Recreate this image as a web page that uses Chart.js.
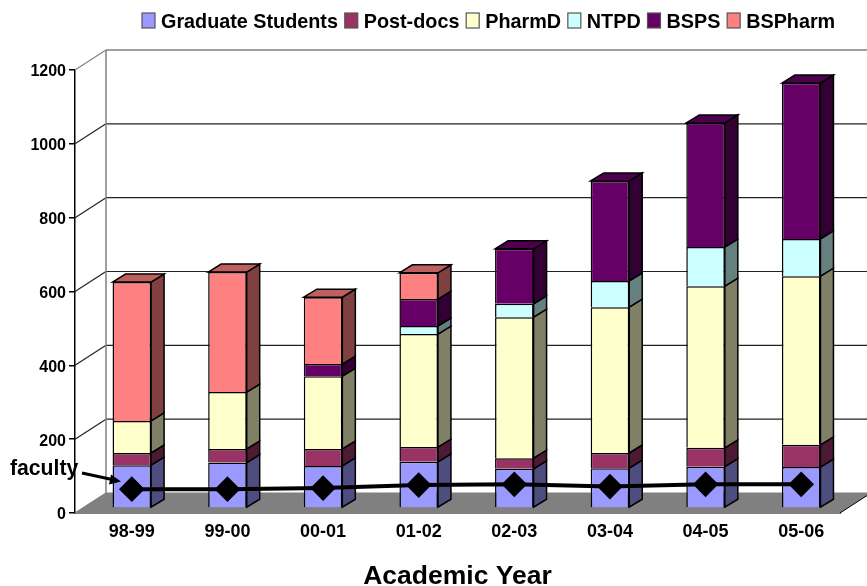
<!DOCTYPE html>
<html>
<head>
<meta charset="utf-8">
<style>html,body{margin:0;padding:0;background:#fff}canvas{display:block}</style>
<script src="https://cdn.jsdelivr.net/npm/chart.js@4"></script>
</head>
<body>
<canvas id="c" width="867" height="586" style="width:867px;height:586px"></canvas>
<script>
const years = ['98-99','99-00','00-01','01-02','02-03','03-04','04-05','05-06'];
const graduateStudents = [116,123,114,125,106,108,112,111];
const postDocs = [33,37,46,40,29,41,51,60];
const pharmD = [87,154,197,306,382,395,438,457];
const ntpd = [0,0,0,22,36,71,106,101];
const bsps = [0,0,33,73,149,271,336,422];
const bsPharm = [376,325,181,71,0,0,0,0];
const faculty = [51,51,54,62,64,58,64,64];
const yTicks = [0,200,400,600,800,1000,1200];

const FONT = '"Liberation Sans", Arial, sans-serif';
const FRONT = {x:9, y:-5};
const BAR_DEPTH = {x:13, y:8};
const WALL = {x:31, y:20};

function shade(hex, f){
  const n = parseInt(hex.slice(1),16);
  return 'rgb('+[(n>>16)&255,(n>>8)&255,n&255].map(v=>Math.round(v*f)).join(',')+')';
}
function poly(ctx, pts, fill, stroke, lw){
  ctx.beginPath();
  pts.forEach((p,i)=> i?ctx.lineTo(p[0],p[1]):ctx.moveTo(p[0],p[1]));
  ctx.closePath();
  if(fill){ctx.fillStyle=fill;ctx.fill();}
  if(stroke){ctx.strokeStyle=stroke;ctx.lineWidth=lw||1;ctx.stroke();}
}
function seg(ctx,x1,y1,x2,y2,c,w){
  ctx.beginPath();ctx.moveTo(x1,y1);ctx.lineTo(x2,y2);ctx.strokeStyle=c;ctx.lineWidth=w;ctx.stroke();
}

const box3d = {
  id:'box3d',
  beforeDatasetsDraw(chart){
    const ctx = chart.ctx, a = chart.chartArea, ys = chart.scales.y;
    ctx.save();
    // floor
    poly(ctx,[[a.left,a.bottom],[a.right,a.bottom],[a.right+WALL.x,a.bottom-WALL.y],[a.left+WALL.x,a.bottom-WALL.y]],'#808080');
    seg(ctx,a.right,a.bottom,a.right+WALL.x,a.bottom-WALL.y,'#000',1);
    // back wall
    const wx = a.left+WALL.x;
    ys.ticks.forEach(t=>{
      const y = ys.getPixelForValue(t.value);
      const top = t.value===1200, bot = t.value===0;
      const col = (top||bot)?'#808080':'#222';
      seg(ctx,a.left,y,wx,y-WALL.y,col,1.2);
      seg(ctx,wx,y-WALL.y,chart.width,y-WALL.y,col,top?1.5:1.2);
    });
    seg(ctx,wx,a.top-WALL.y,wx,a.bottom-WALL.y,'#808080',1.5);
    // bar sides and caps
    ctx.translate(FRONT.x,FRONT.y);
    const barSets = chart.data.datasets.map((d,i)=>({d,i})).filter(o=>o.d.type!=='line');
    years.forEach((_,j)=>{
      let lastTop = -1;
      barSets.forEach((o,k)=>{ if(o.d.data[j]>0) lastTop=k; });
      barSets.forEach((o,k)=>{
        if(!(o.d.data[j]>0)) return;
        const el = chart.getDatasetMeta(o.i).data[j];
        const L = el.x-el.width/2, R = el.x+el.width/2;
        const dx = BAR_DEPTH.x, dy = BAR_DEPTH.y;
        poly(ctx,[[R,el.y],[R+dx,el.y-dy],[R+dx,el.base-dy],[R,el.base]],shade(o.d.backgroundColor,0.5),'#000',1.5);
        if(k===lastTop){
          poly(ctx,[[L,el.y],[L+dx,el.y-dy],[R+dx,el.y-dy],[R,el.y]],shade(o.d.backgroundColor,0.75),'#000',1.5);
        }
      });
    });
    ctx.restore();
  },
  beforeDatasetDraw(chart){ chart.ctx.save(); chart.ctx.translate(FRONT.x,FRONT.y); },
  afterDatasetDraw(chart){ chart.ctx.restore(); },
  afterDraw(chart){
    const ctx = chart.ctx;
    ctx.save();
    // legend row: sequential swatch + label, taken from the bar datasets
    ctx.font = 'bold 19.8px '+FONT;
    ctx.textBaseline='middle';
    ctx.textAlign='left';
    let x = 142;
    chart.data.datasets.filter(d=>d.type!=='line').forEach(d=>{
      ctx.fillStyle=d.backgroundColor;
      ctx.fillRect(x,13,13,15);
      ctx.strokeStyle='#555';ctx.lineWidth=1.2;
      ctx.strokeRect(x,13,13,15);
      x+=19;
      ctx.fillStyle='#000';
      ctx.fillText(d.label,x,23);
      x+=ctx.measureText(d.label).width+6.8;
    });
    // faculty callout
    ctx.font = 'bold 21.2px '+FONT;
    ctx.textBaseline='alphabetic';
    ctx.fillText('faculty',10,475);
    seg(ctx,82,473,112,479.5,'#000',3);
    poly(ctx,[[121,481.5],[111,474.5],[109,484.5]],'#000');
    ctx.restore();
  }
};

function barSet(label,data,color){
  return {label,data,backgroundColor:color,borderColor:'#000',borderWidth:1.5,stack:'s',order:1,
    categoryPercentage:1,barPercentage:0.403};
}
new Chart(document.getElementById('c'),{
  type:'bar',
  plugins:[box3d],
  data:{labels:years,datasets:[
    barSet('Graduate Students',graduateStudents,'#9999FF'),
    barSet('Post-docs',postDocs,'#993366'),
    barSet('PharmD',pharmD,'#FFFFCC'),
    barSet('NTPD',ntpd,'#CCFFFF'),
    barSet('BSPS',bsps,'#660066'),
    barSet('BSPharm',bsPharm,'#FF8080'),
    {type:'line',label:'faculty',data:faculty,stack:'f',order:0,borderColor:'#000',backgroundColor:'#000',
     borderWidth:4,pointStyle:'rectRot',pointRadius:10,pointBackgroundColor:'#000',pointBorderColor:'#000',tension:0,fill:false}
  ]},
  options:{
    responsive:false,animation:false,devicePixelRatio:1,
    layout:{padding:{left:0,right:27,top:70,bottom:0}},
    plugins:{tooltip:{enabled:false},legend:{display:false}},
    scales:{
      x:{stacked:true,
        grid:{display:false},
        border:{color:'#000',width:1.5},
        ticks:{color:'#000',labelOffset:9,maxRotation:0,padding:0,font:{family:FONT,size:18,weight:'bold'}},
        title:{display:true,text:'Academic Year',color:'#000',padding:{top:19,bottom:-7},font:{family:FONT,size:26.5,weight:'bold'}},
        afterFit(s){s.height=73;}
      },
      y:{stacked:true,min:0,max:1200,
        afterBuildTicks(s){s.ticks=yTicks.map(v=>({value:v}));},
        grid:{drawOnChartArea:false,drawTicks:true,tickLength:6,color:'#000',lineWidth:1.5},
        border:{color:'#000',width:1.5},
        ticks:{color:'#000',padding:3,labelOffset:2,callback:v=>String(v),font:{family:FONT,size:16,weight:'bold'}},
        afterFit(s){s.width=75;}
      }
    }
  }
});
</script>
</body>
</html>
